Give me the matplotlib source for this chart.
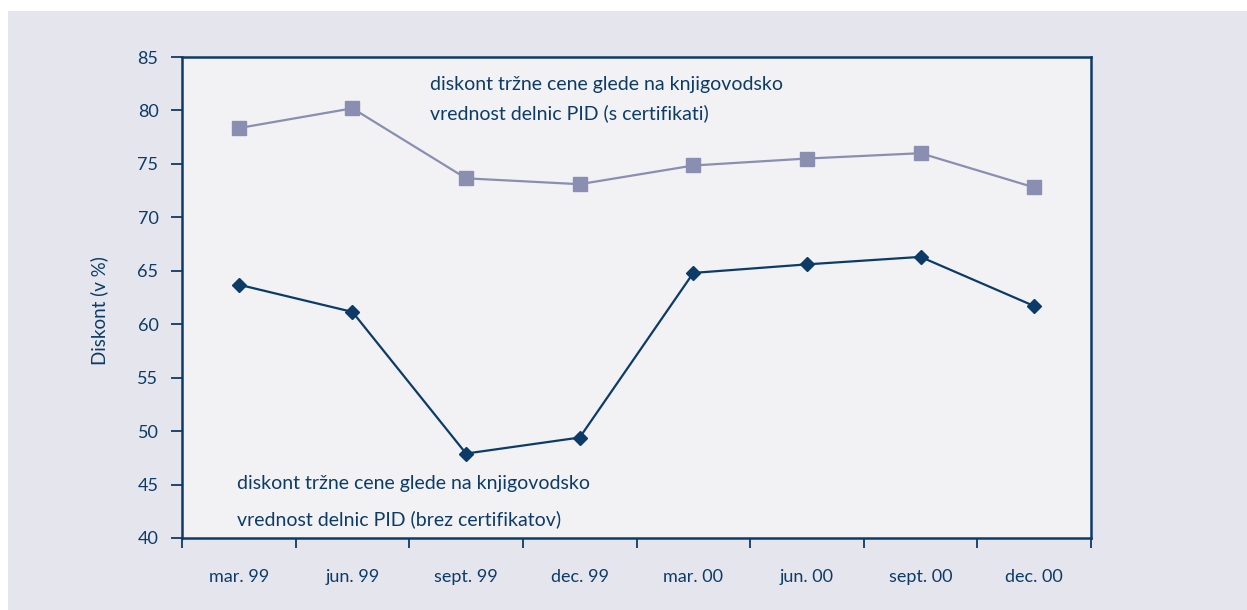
import matplotlib.pyplot as plt
from matplotlib.patches import Rectangle

months = ["mar. 99", "jun. 99", "sept. 99", "dec. 99",
          "mar. 00", "jun. 00", "sept. 00", "dec. 00"]
s_cert = [78.35, 80.2, 73.65, 73.1, 74.85, 75.5, 76.0, 72.8]
brez_cert = [63.7, 61.15, 47.9, 49.4, 64.8, 65.6, 66.3, 61.7]

dark = "#0c3b68"
light = "#8a8eb1"
plt.rcParams['font.family'] = ['Lato', 'DejaVu Sans']

fig = plt.figure(figsize=(12.47, 6.10), dpi=100, facecolor="white")
fig.patches.append(Rectangle((8 / 1247, 0), 1, 1 - 11 / 610, transform=fig.transFigure,
                             facecolor="#e5e5ee", edgecolor="none", zorder=-10))
ax = fig.add_axes([182 / 1247, 1 - 538 / 610, 909 / 1247, 481 / 610])
ax.set_facecolor("#f2f2f5")

x = range(len(months))
ax.plot(x, s_cert, color=light, lw=1.6, marker="s", ms=9.5, mec=light, zorder=3)
ax.plot(x, brez_cert, color=dark, lw=1.6, marker="D", ms=7, mec=dark, zorder=3)

ax.set_xlim(-0.5, len(months) - 0.5)
ax.set_ylim(40, 85)
ax.set_yticks(range(40, 86, 5))
ax.set_xticks([i - 0.5 for i in range(len(months) + 1)])
ax.set_xticklabels([])
ax.set_xticks(list(x), minor=True)
ax.set_xticklabels(months, minor=True)
ax.tick_params(axis="x", which="major", length=7, width=1.3, color=dark, direction="out")
ax.tick_params(axis="x", which="minor", length=0, pad=22, labelsize=13, labelcolor=dark)
ax.tick_params(axis="y", length=8, width=1.3, color=dark, labelsize=13,
               labelcolor=dark, pad=9)
for sp in ax.spines.values():
    sp.set_color(dark)
    sp.set_linewidth(1.8)

ax.set_ylabel("Diskont (v %)", fontsize=13.5, color=dark)
ax.yaxis.set_label_coords(-0.081, 0.472)

ax.text(1.68, 82.4, "diskont tržne cene glede na knjigovodsko", fontsize=14,
        color=dark, va="center")
ax.text(1.68, 79.75, "vrednost delnic PID (s certifikati)", fontsize=14,
        color=dark, va="center")
ax.text(-0.02, 45.1, "diskont tržne cene glede na knjigovodsko", fontsize=14,
        color=dark, va="center")
ax.text(-0.02, 41.8, "vrednost delnic PID (brez certifikatov)", fontsize=14,
        color=dark, va="center")

fig.savefig("out.png", dpi=100, facecolor=fig.get_facecolor())
